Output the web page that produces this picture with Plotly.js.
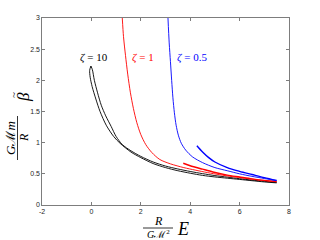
<!DOCTYPE html>
<html><head><meta charset="utf-8">
<script src="https://cdn.plot.ly/plotly-3.0.1.min.js"></script>
<style>html,body{margin:0;padding:0;background:#fff}#c{width:320px;height:240px}</style>
</head><body><div id="c"></div>
<script>
// zeta = 10 (black): lower branch, loop up to the tip, back to cusp, return branch
const blackLowerX = [7.5, 7.0, 6.5, 6.0, 5.5, 5.0, 4.5, 4.0, 3.5, 3.0, 2.5, 2.0, 1.6, 1.16, 0.9, 0.6, 0.35, 0.18, 0.03, -0.05, -0.07, -0.02];
const blackLowerY = [0.355, 0.37, 0.39, 0.41, 0.43, 0.45, 0.475, 0.51, 0.55, 0.6, 0.665, 0.76, 0.85, 0.99, 1.1, 1.28, 1.5, 1.7, 1.9, 2.05, 2.16, 2.23];
const blackUpperX = [-0.02, 0.04, 0.12, 0.25, 0.4, 0.58, 0.8, 1.0, 1.25, 1.6, 2.0, 2.5, 3.0, 3.5, 4.0, 4.5, 5.0, 5.5, 6.0, 6.5, 7.0, 7.5];
const blackUpperY = [2.23, 2.17, 2.0, 1.8, 1.6, 1.43, 1.26, 1.1, 0.97, 0.87, 0.78, 0.69, 0.625, 0.578, 0.538, 0.503, 0.472, 0.447, 0.422, 0.4, 0.38, 0.362];
// zeta = 1 (red)
const redMainX = [1.25, 1.3, 1.38, 1.47, 1.58, 1.7, 1.84, 2.0, 2.2, 2.45, 2.77, 3.2, 3.74, 4.2, 4.7, 5.2, 5.7, 6.2, 6.7, 7.2, 7.5];
const redMainY = [3.0, 2.7, 2.4, 2.1, 1.8, 1.55, 1.32, 1.13, 0.97, 0.84, 0.73, 0.66, 0.6, 0.56, 0.52, 0.485, 0.455, 0.43, 0.405, 0.385, 0.372];
const redSecondX = [3.72, 4.0, 4.5, 4.92, 5.5, 6.0, 6.5, 7.0, 7.5];
const redSecondY = [0.67, 0.63, 0.575, 0.53, 0.48, 0.45, 0.42, 0.395, 0.378];
// zeta = 0.5 (blue)
const blueMainX = [3.1, 3.15, 3.2, 3.25, 3.3, 3.36, 3.43, 3.52, 3.64, 3.82, 4.1, 4.5, 5.0, 5.5, 6.0, 6.5, 7.0, 7.5];
const blueMainY = [3.0, 2.6, 2.3, 2.0, 1.72, 1.48, 1.28, 1.12, 0.99, 0.88, 0.77, 0.68, 0.6, 0.55, 0.5, 0.46, 0.425, 0.39];
const blueSecondX = [4.27, 4.5, 4.75, 5.0, 5.5, 6.0, 6.5, 7.0, 7.5];
const blueSecondY = [0.95, 0.85, 0.76, 0.69, 0.6, 0.54, 0.49, 0.44, 0.395];

const xTicks = [-2, 0, 2, 4, 6, 8];
const yTicks = [0, 0.5, 1, 1.5, 2, 2.5, 3];
const yTickText = ['0', '0.5', '1', '1.5', '2', '2.5', '3'];

const line = (x, y, color, w) => ({x, y, type: 'scatter', mode: 'lines', line: {color, width: w, shape: 'spline', smoothing: 0.8}, hoverinfo: 'skip'});
const data = [
  line(blackLowerX, blackLowerY, '#000000', 0.9),
  line(blackUpperX, blackUpperY, '#000000', 0.9),
  line(redMainX, redMainY, '#ff0000', 0.9),
  line(redSecondX, redSecondY, '#ff0000', 1.4),
  line(blueMainX, blueMainY, '#0000ff', 0.9),
  line(blueSecondX, blueSecondY, '#0000ff', 1.4)
];

const serif = 'Liberation Serif, DejaVu Serif, serif';
const tickFont = {family: 'Liberation Sans, Arial, sans-serif', size: 7, color: '#262626'};
const ax = {
  showgrid: false, zeroline: false, showline: true, mirror: 'ticks',
  linecolor: '#262626', linewidth: 0.6, ticks: 'inside', ticklen: 3, tickwidth: 0.6, tickcolor: '#262626',
  tickfont: tickFont
};
const layout = {
  width: 320, height: 240,
  margin: {l: 42, r: 31, t: 18, b: 35},
  paper_bgcolor: '#fff', plot_bgcolor: '#fff',
  showlegend: false,
  xaxis: Object.assign({}, ax, {range: [-2, 8], tickvals: xTicks, ticktext: xTicks.map(String)}),
  yaxis: Object.assign({}, ax, {range: [0, 3], tickvals: yTicks, ticktext: yTickText}),
  annotations: [
    {x: 0.11, y: 2.37, xref: 'x', yref: 'y', text: '<i>ζ</i> = 10', showarrow: false, font: {family: serif, size: 11, color: '#000'}},
    {x: 2.09, y: 2.37, xref: 'x', yref: 'y', text: '<i>ζ</i> = 1', showarrow: false, font: {family: serif, size: 11, color: '#ff0000'}},
    {x: 4.07, y: 2.37, xref: 'x', yref: 'y', text: '<i>ζ</i> = 0.5', showarrow: false, font: {family: serif, size: 11, color: '#0000ff'}},
    // x title: R / (G M^2) E
    {x: 158, y: 240 - 221, xref: 'paper', yref: 'paper', text: '<i>R</i>', showarrow: false, font: {family: serif, size: 12, color: '#000'}},
    {x: 158, y: 240 - 233.5, xref: 'paper', yref: 'paper', text: '<i>G</i>ℳ<sup>2</sup>', showarrow: false, font: {family: serif, size: 10, color: '#000'}},
    {x: 183, y: 240 - 229, xref: 'paper', yref: 'paper', text: '<i>E</i>', showarrow: false, font: {family: serif, size: 18, color: '#000'}},
    // y title
    {x: 10, y: 240 - 138, xref: 'paper', yref: 'paper', text: '<i>G</i>ℳ<i>m</i>', textangle: -90, showarrow: false, font: {family: serif, size: 13, color: '#000'}},
    {x: 24, y: 240 - 138, xref: 'paper', yref: 'paper', text: '<i>R</i>', textangle: -90, showarrow: false, font: {family: serif, size: 12, color: '#000'}},
    {x: 23, y: 240 - 97, xref: 'paper', yref: 'paper', text: '<i>β</i>', textangle: -90, showarrow: false, font: {family: serif, size: 17, color: '#000'}},
    {x: 13, y: 240 - 95, xref: 'paper', yref: 'paper', text: '~', textangle: -90, showarrow: false, font: {family: serif, size: 11, color: '#000'}}
  ],
  shapes: [
    {type: 'line', xref: 'paper', yref: 'paper', x0: 143, x1: 173, y0: 240 - 228, y1: 240 - 228, line: {color: '#000', width: 0.8}},
    {type: 'line', xref: 'paper', yref: 'paper', x0: 17.5, x1: 17.5, y0: 240 - 116, y1: 240 - 160, line: {color: '#000', width: 0.8}}
  ]
};
// convert pixel-based paper positions for title pieces to paper fractions
const W = 320, H = 240, L = 42, R = 31, T = 18, B = 35;
const pw = W - L - R, ph = H - T - B;
layout.annotations.forEach(a => { if (a.xref === 'paper') { a.x = (a.x - L) / pw; a.y = (a.y - B) / ph; a.xanchor = 'center'; a.yanchor = 'middle'; } });
layout.shapes.forEach(s => { s.x0 = (s.x0 - L) / pw; s.x1 = (s.x1 - L) / pw; s.y0 = (s.y0 - B) / ph; s.y1 = (s.y1 - B) / ph; });
Plotly.newPlot('c', data, layout, {staticPlot: true, displayModeBar: false});
</script>
</body></html>
